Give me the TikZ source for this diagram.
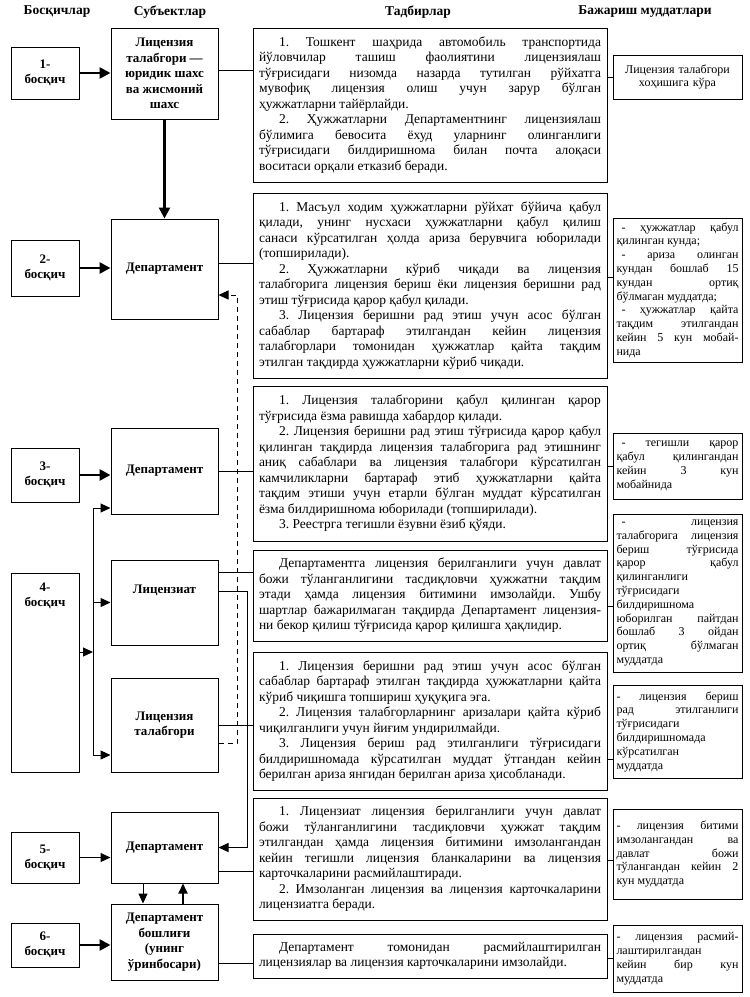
\documentclass[tikz,border=0pt]{standalone}
\usepackage{fontspec}
\setmainfont{Liberation Serif}
\usetikzlibrary{arrows.meta}
\frenchspacing

\newcommand{\pind}{\hspace*{20pt}}
\newcommand{\dind}{\hspace*{5pt}}

\tikzset{
  headfont/.style={font=\bfseries\fontsize{13.5}{15}\selectfont},
  steplabel/.style={font=\bfseries\fontsize{13}{15}\selectfont, align=center, inner sep=0pt},
  stepbox/.style={draw, line width=1pt, minimum width=68pt, inner sep=0pt, align=center,
    font=\bfseries\fontsize{13}{15}\selectfont},
  subjbox/.style={draw, line width=1pt, minimum width=107pt, inner sep=0pt, align=center,
    font=\bfseries\fontsize{13}{15.5}\selectfont},
  actbox/.style={draw, line width=1pt, text width=342pt, inner xsep=6pt, inner ysep=0pt,
    align=justify, font=\fontsize{13.5}{15.5}\selectfont},
  termbox/.style={draw, line width=1pt, text width=122pt, inner xsep=3.5pt, inner ysep=0pt,
    align=justify, font=\fontsize{12}{13.8}\selectfont},
  link/.style={line width=0.9pt},
  arr/.style={line width=1pt, -{Triangle[length=10pt,width=9pt]}},
  boldarr/.style={line width=2.6pt, -{Triangle[length=11pt,width=11pt]}}
}

\begin{document}
\begin{tikzpicture}[x=1pt, y=-1pt]
    \fill[white] (0,0) rectangle (750,997);
    \useasboundingbox (0,0) rectangle (750,997);

    \node[headfont] (h1) at (57,12) {Босқичлар};
    \node[headfont] (h2) at (170,12) {Субъектлар};
    \node[headfont] (h3) at (418,12) {Тадбирлар};
    \node[headfont] (h4) at (645,12) {Бажариш муддатлари};

    \node[stepbox, minimum height=52pt] (st1) at (45,73) {1-\\босқич};
    \node[stepbox, minimum height=56pt] (st2) at (45,268) {2-\\босқич};
    \node[stepbox, minimum height=54pt] (st3) at (45,475) {3-\\босқич};
    \node[stepbox, minimum height=199pt,
          label={[steplabel, below=10pt]north:{4-\\босқич}}] (st4) at (45,672.5) {};
    \node[stepbox, minimum height=51pt] (st5) at (45,857.5) {5-\\босқич};
    \node[stepbox, minimum height=44pt] (st6) at (45,945) {6-\\босқич};

    \node[subjbox, minimum height=91pt] (sb1) at (164.5,73.5)
          {Лицензия\\талабгори —\\юридик шахс\\ва жисмоний\\шахс};
    \node[subjbox, minimum height=100pt] (sb2) at (164.5,269) {Департамент};
    \node[subjbox, minimum height=86pt] (sb3) at (164.5,471) {Департамент};
    \node[subjbox, minimum height=85pt,
          label={[steplabel, below=25pt]north:Лицензиат}] (sb4) at (164.5,602.5) {};
    \node[subjbox, minimum height=94pt] (sb5) at (164.5,725) {Лицензия\\талабгори};
    \node[subjbox, minimum height=71pt] (sb6) at (164.5,847.5) {Департамент};
    \node[subjbox, minimum height=76pt] (sb7) at (164.5,942)
          {Департамент\\бошлиғи\\(унинг\\ўринбосари)};

    \node[actbox, minimum height=154pt] (t1) at (430,105)
          {\pind 1. Тошкент шаҳрида автомобиль транспортида\linebreak
           йўловчилар ташиш фаолиятини лицензиялаш\linebreak
           тўғрисидаги низомда назарда тутилган рўйхатга\linebreak
           мувофиқ лицензия олиш учун зарур бўлган\linebreak
           ҳужжатларни тайёрлайди.\par
           \pind 2. Ҳужжатларни Департаментнинг лицензиялаш\linebreak
           бўлимига бевосита ёхуд уларнинг олинганлиги\linebreak
           тўғрисидаги билдиришнома билан почта алоқаси\linebreak
           воситаси орқали етказиб беради.};
    \node[actbox, minimum height=185pt] (t2) at (430,285.5)
          {\pind 1. Масъул ходим ҳужжатларни рўйхат бўйича қабул\linebreak
           қилади, унинг нусхаси ҳужжатларни қабул қилиш\linebreak
           санаси кўрсатилган ҳолда ариза берувчига юборилади\linebreak
           (топширилади).\par
           \pind 2. Ҳужжатларни кўриб чиқади ва лицензия\linebreak
           талабгорига лицензия бериш ёки лицензия беришни рад\linebreak
           этиш тўғрисида қарор қабул қилади.\par
           \pind 3. Лицензия беришни рад этиш учун асос бўлган\linebreak
           сабаблар бартараф этилгандан кейин лицензия\linebreak
           талабгорлари томонидан ҳужжатлар қайта тақдим\linebreak
           этилган тақдирда ҳужжатларни кўриб чиқади.};
    \node[actbox, minimum height=155pt] (t3) at (430,463.5)
          {\pind 1. Лицензия талабгорини қабул қилинган қарор\linebreak
           тўғрисида ёзма равишда хабардор қилади.\par
           \pind 2. Лицензия беришни рад этиш тўғрисида қарор қабул\linebreak
           қилинган тақдирда лицензия талабгорига рад этишнинг\linebreak
           аниқ сабаблари ва лицензия талабгори кўрсатилган\linebreak
           камчиликларни бартараф этиб ҳужжатларни қайта\linebreak
           тақдим этиши учун етарли бўлган муддат кўрсатилган\linebreak
           ёзма билдиришнома юборилади (топширилади).\par
           \pind 3. Реестрга тегишли ёзувни ёзиб қўяди.};
    \node[actbox, minimum height=91pt] (t4) at (430,595.5)
          {\pind Департаментга лицензия берилганлиги учун давлат\linebreak
           божи тўланганлигини тасдиқловчи ҳужжатни тақдим\linebreak
           этади ҳамда лицензия битимини имзолайди. Ушбу\linebreak
           шартлар бажарилмаган тақдирда Департамент лицензия-\linebreak
           ни бекор қилиш тўғрисида қарор қилишга ҳақлидир.};
    \node[actbox, minimum height=138pt] (t5) at (430,721)
          {\pind 1. Лицензия беришни рад этиш учун асос бўлган\linebreak
           сабаблар бартараф этилган тақдирда ҳужжатларни қайта\linebreak
           кўриб чиқишга топшириш ҳуқуқига эга.\par
           \pind 2. Лицензия талабгорларнинг аризалари қайта кўриб\linebreak
           чиқилганлиги учун йиғим ундирилмайди.\par
           \pind 3. Лицензия бериш рад этилганлиги тўғрисидаги\linebreak
           билдиришномада кўрсатилган муддат ўтгандан кейин\linebreak
           берилган ариза янгидан берилган ариза ҳисобланади.};
    \node[actbox, minimum height=122pt] (t6) at (430,859)
          {\pind 1. Лицензиат лицензия берилганлиги учун давлат\linebreak
           божи тўланганлигини тасдиқловчи ҳужжат тақдим\linebreak
           этилгандан ҳамда лицензия битимини имзолангандан\linebreak
           кейин тегишли лицензия бланкаларини ва лицензия\linebreak
           карточкаларини расмийлаштиради.\par
           \pind 2. Имзоланган лицензия ва лицензия карточкаларини\linebreak
           лицензиатга беради.};
    \node[actbox, minimum height=44pt] (t7) at (430,956)
          {\pind Департамент томонидан расмийлаштирилган\linebreak
           лицензиялар ва лицензия карточкаларини имзолайди.};

    \node[termbox, align=center, minimum height=44pt] (r1) at (677.5,77)
          {Лицензия талабгори\\хоҳишига кўра};
    \node[termbox, minimum height=144pt] (r2) at (677.5,290)
          {\dind - ҳужжатлар қабул\linebreak қилинган кунда;\par
           \dind - ариза олинган\linebreak кундан бошлаб 15\linebreak кундан ортиқ\linebreak
           бўлмаган муддатда;\par
           \dind - ҳужжатлар қайта\linebreak тақдим этилгандан\linebreak кейин 5 кун мобай-\linebreak нида};
    \node[termbox, minimum height=66pt] (r3) at (677.5,466)
          {\dind - тегишли қарор\linebreak қабул қилингандан\linebreak кейин 3 кун\linebreak мобайнида};
    \node[termbox, minimum height=158pt] (r4) at (677.5,593)
          {\dind - лицензия\linebreak талабгорига лицензия\linebreak бериш тўғрисида\linebreak
           қарор қабул\linebreak қилинганлиги\linebreak тўғрисидаги\linebreak билдиришнома\linebreak
           юборилган пайтдан\linebreak бошлаб 3 ойдан\linebreak ортиқ бўлмаган\linebreak муддатда};
    \node[termbox, minimum height=93pt] (r5) at (677.5,731.5)
          {- лицензия бериш\linebreak рад этилганлиги\linebreak тўғрисидаги\linebreak
           билдиришномада\linebreak кўрсатилган\linebreak муддатда};
    \node[termbox, minimum height=90pt] (r6) at (677.5,854)
          {- лицензия битими\linebreak имзолангандан ва\linebreak давлат божи\linebreak
           тўлангандан кейин 2\linebreak кун муддатда};
    \node[termbox, minimum height=67pt] (r7) at (677.5,958.5)
          {- лицензия расмий-\linebreak лаштирилгандан\linebreak кейин бир кун\linebreak муддатда};

    \draw[boldarr] (st1.east) -- (st1.east -| sb1.west);
    \draw[boldarr] (st2.east) -- (st2.east -| sb2.west);
    \draw[boldarr] (st3.east) -- (st3.east -| sb3.west);
    \draw[arr] (st5.east) -- (st5.east -| sb6.west);
    \draw[boldarr] (st6.east) -- (st6.east -| sb7.west);

    \coordinate (bus) at (93,652);
    \coordinate (bustop) at (93,508);
    \coordinate (busbot) at (93,755);
    \draw[arr] (st4.east |- bus) -- (bus);
    \draw[arr] (busbot) |- (sb3.west |- bustop);
    \draw[arr] (bustop |- sb4) -- (sb4.west);
    \draw[arr] (bustop) |- (sb5.west |- busbot);

    \draw[boldarr] (sb1.south) -- (sb2.north);
    \coordinate (dback) at (237,743);
    \coordinate (dtip) at (237,295);
    \draw[arr, dash pattern=on 5pt off 4pt] (sb5.east |- dback) -- (dback) |- (sb2.east |- dtip);
    \coordinate (lturn) at (247,591);
    \draw[arr] (sb4.east |- lturn) -| (lturn |- sb6) -- (sb6.east);
    \draw[arr] ([xshift=-21.5pt]sb6.south) -- ([xshift=-21.5pt]sb7.north);
    \draw[arr, line width=2pt] ([xshift=18.5pt]sb7.north) -- ([xshift=18.5pt]sb6.south);

    \draw[link] ([yshift=3.5pt]sb1.east) -- ([yshift=3.5pt]sb1.east -| t1.west);
    \draw[link] ([yshift=6pt]sb2.east) -- ([yshift=6pt]sb2.east -| t2.west);
    \draw[link] (sb3.east) -- (sb3.east -| t3.west);
    \draw[link] ([yshift=30pt]sb4.east) -- ([yshift=30pt]sb4.east -| t4.west);
    \draw[link] (sb5.east) -- (sb5.east -| t5.west);
    \draw[link] ([yshift=-23.5pt]sb6.east) -- ([yshift=-23.5pt]sb6.east -| t6.west);
    \draw[link] ([yshift=-21pt]sb7.east) -- ([yshift=-21pt]sb7.east -| t7.west);

    \draw[link] (r1.west) -- (r1.west -| t1.east);
    \draw[link] ([yshift=13pt]r2.west) -- ([yshift=13pt]r2.west -| t2.east);
    \draw[link] (r3.west) -- (r3.west -| t3.east);
    \draw[link] ([yshift=-13pt]r4.west) -- ([yshift=-13pt]r4.west -| t4.east);
    \draw[link] ([yshift=-27.5pt]r5.west) -- ([yshift=-27.5pt]r5.west -| t5.east);
    \draw[link] ([yshift=-6pt]r6.west) -- ([yshift=-6pt]r6.west -| t6.east);
    \draw[link] (r7.west) -- (r7.west -| t7.east);
\end{tikzpicture}
\end{document}
